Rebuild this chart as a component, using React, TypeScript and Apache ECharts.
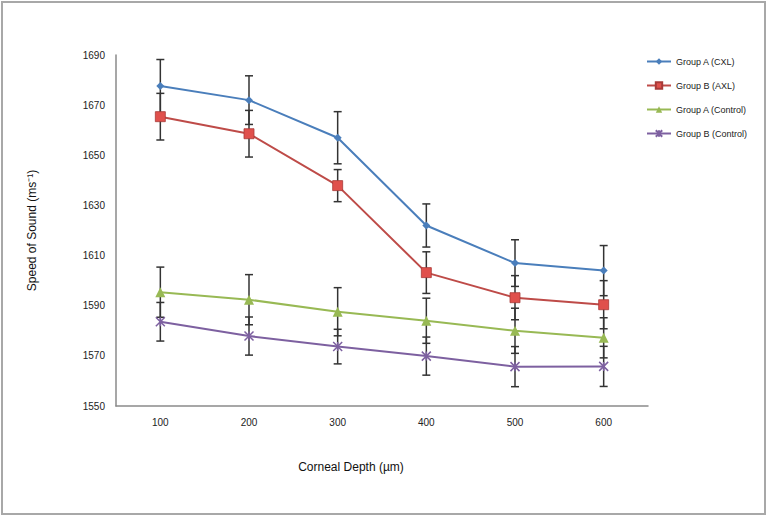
import React, { useEffect, useRef } from "react";
import * as echarts from "echarts";

const categories = ["100", "200", "300", "400", "500", "600"];
const seriesNames = ["Group A (CXL)", "Group B (AXL)", "Group A (Control)", "Group B (Control)"];
const groupACXL = [1677.6, 1672, 1657, 1622, 1607, 1604];
const groupBAXL = [1665.4, 1658.6, 1637.9, 1603.2, 1593.2, 1590.4];
const groupAControl = [1595.4, 1592.4, 1587.6, 1584, 1580, 1577.2];
const groupBControl = [1583.6, 1577.9, 1573.7, 1569.9, 1565.7, 1565.8];
const errACXL = [10.6, 9.7, 10.4, 8.6, 9.3, 10];
const errBAXL = [9.3, 9.3, 6.4, 8.3, 8.8, 9.6];
const errAControl = [10, 10, 9.6, 9, 9, 8];
const errBControl = [7.7, 7.6, 6.9, 7.6, 8, 8];
const yTicks = [1550, 1570, 1590, 1610, 1630, 1650, 1670, 1690];

const colors = ["#4a7ebb", "#be4b48", "#98b954", "#7d60a0"];

export default function App() {
  const ref = useRef<HTMLDivElement>(null);
  useEffect(() => {
    if (!ref.current) return;
    const chart = echarts.init(ref.current, null, { renderer: "svg" });
    const values = [groupACXL, groupBAXL, groupAControl, groupBControl];
    const errs = [errACXL, errBAXL, errAControl, errBControl];
    const symbols = [
      "diamond",
      "rect",
      "triangle",
      "path://M0,0L10,10M10,0L0,10M5,0L5,10",
    ];
    const symbolSizes = [8, 10, 10, 9];

    const errData: number[][] = [];
    values.forEach((vals, s) => {
      vals.forEach((v, i) => errData.push([i, v, errs[s][i]]));
    });

    const lineSeries = values.map((vals, s) => ({
      name: seriesNames[s],
      type: "line",
      data: vals,
      symbol: symbols[s],
      symbolSize: symbolSizes[s],
      showAllSymbol: true,
      z: 3,
      lineStyle: { color: colors[s], width: 2 },
      itemStyle:
        s === 3
          ? { color: colors[s], borderColor: colors[s], borderWidth: 1.5 }
          : s === 1
          ? { color: "#e0504c", borderColor: "#a83a37", borderWidth: 0.8 }
          : { color: colors[s] },
    }));

    chart.setOption({
      animation: false,
      color: colors,
      graphic: [
        {
          type: "rect",
          shape: { x: 2, y: 2, width: 763, height: 512 },
          style: { fill: "none", stroke: "#a8a8a8", lineWidth: 2 },
          silent: true,
          z: -1,
        },
      ],
      legend: {
        orient: "vertical",
        left: 646,
        top: 57,
        padding: 0,
        itemWidth: 24,
        itemHeight: 8,
        itemGap: 15,
        data: seriesNames,
        textStyle: { fontFamily: "Liberation Sans", fontSize: 9, color: "#222" },
      },
      grid: { left: 116, right: 121, top: 55, bottom: 112, containLabel: false },
      xAxis: {
        type: "category",
        data: categories,
        boundaryGap: true,
        axisLine: { lineStyle: { color: "#8a8a8a", width: 1.5 } },
        axisTick: { show: false },
        axisLabel: { margin: 11, fontFamily: "Liberation Sans", fontSize: 10, color: "#222" },
        name: "Corneal Depth (µm)",
        nameLocation: "middle",
        nameGap: 55,
        nameTextStyle: {
          fontFamily: "Liberation Sans",
          fontSize: 12,
          color: "#111",
          padding: [0, 62, 0, 0],
        },
      },
      yAxis: {
        type: "value",
        min: yTicks[0],
        max: yTicks[yTicks.length - 1],
        interval: 10,
        splitLine: { show: false },
        axisTick: { show: false },
        axisLine: { show: true, lineStyle: { color: "#8a8a8a", width: 1.5 } },
        axisLabel: {
          margin: 11,
          fontFamily: "Liberation Sans",
          fontSize: 10,
          color: "#222",
          formatter: (v: number) => (yTicks.indexOf(v) >= 0 ? String(v) : ""),
        },
        name: "Speed of Sound (ms⁻¹)",
        nameLocation: "middle",
        nameGap: 78,
        nameTextStyle: { fontFamily: "Liberation Sans", fontSize: 12, color: "#111" },
      },
      series: [
        {
          type: "custom",
          name: "errors",
          z: 2,
          data: errData,
          renderItem: (params: any, api: any) => {
            const x = api.value(0);
            const v = api.value(1);
            const e = api.value(2);
            const hi = api.coord([x, v + e]);
            const lo = api.coord([x, v - e]);
            const cw = 4;
            const style = { stroke: "#333", lineWidth: 1.5 };
            return {
              type: "group",
              children: [
                { type: "line", shape: { x1: hi[0], y1: hi[1], x2: lo[0], y2: lo[1] }, style },
                { type: "line", shape: { x1: hi[0] - cw, y1: hi[1], x2: hi[0] + cw, y2: hi[1] }, style },
                { type: "line", shape: { x1: lo[0] - cw, y1: lo[1], x2: lo[0] + cw, y2: lo[1] }, style },
              ],
            };
          },
        },
        ...lineSeries,
      ],
    });
    return () => chart.dispose();
  }, []);
  return (
    <div
      ref={ref}
      style={{ position: "absolute", left: 0, top: 0, width: 769, height: 518, background: "#fff" }}
    />
  );
}
